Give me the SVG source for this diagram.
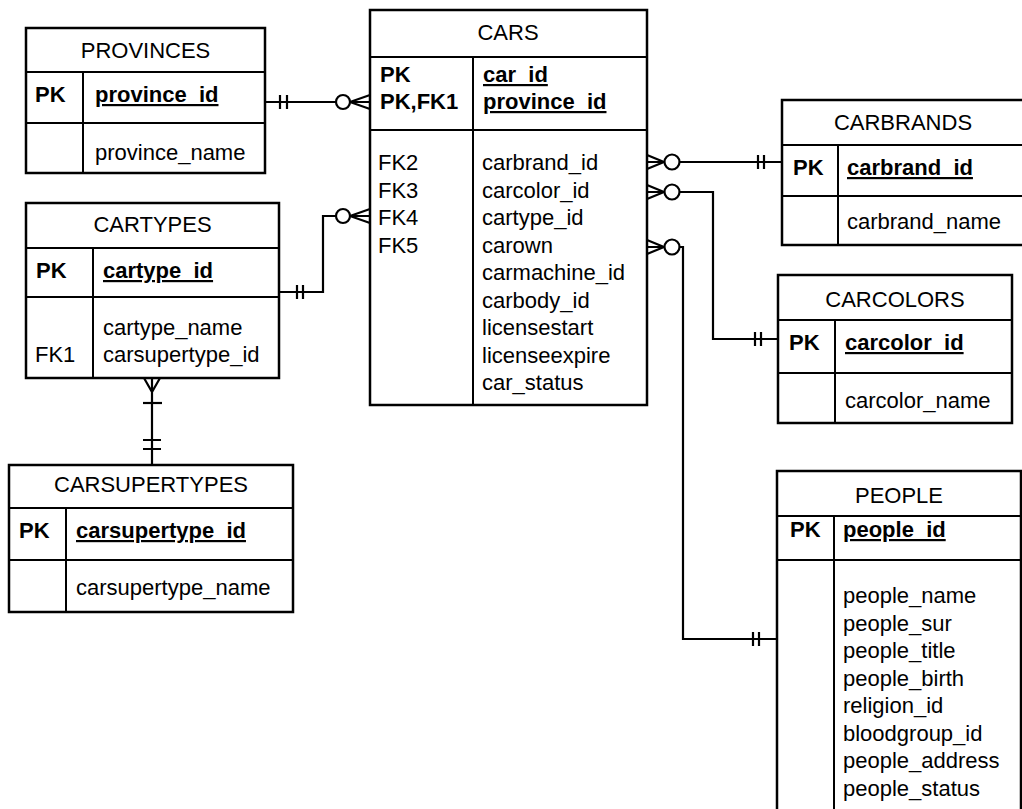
<svg xmlns="http://www.w3.org/2000/svg" width="1022" height="809" viewBox="0 0 1022 809">
  <defs>
    <style>
      .box { fill: #fff; stroke: #000; stroke-width: 2.5; }
      .sep { stroke: #000; stroke-width: 2; fill: none; }
      .t { font-family: "Liberation Sans", Arial, sans-serif; font-size: 22px; fill: #000; }
      .b { font-weight: bold; }
      .u { text-decoration: underline; }
      .c { text-anchor: middle; }
      .conn { fill: none; stroke: #000; stroke-width: 2.2; }
      .ring { fill: #fff; stroke: #000; stroke-width: 2.2; }
    </style>
  </defs>
  <rect width="1022" height="809" fill="#fff"/>

  <!-- PROVINCES -->
  <g id="provinces">
    <rect class="box" x="26" y="28" width="239" height="145"/>
    <path class="sep" d="M26,72 H265 M26,123 H265 M83,72 V173"/>
    <text class="t c" x="145.5" y="58">PROVINCES</text>
    <text class="t b" x="35" y="102">PK</text>
    <text class="t b u" x="95" y="102">province_id</text>
    <text class="t" x="95" y="160">province_name</text>
  </g>

  <!-- CARS -->
  <g id="cars">
    <rect class="box" x="370" y="10" width="277" height="395"/>
    <path class="sep" d="M370,57 H647 M370,130 H647 M473,57 V405"/>
    <text class="t c" x="508" y="40">CARS</text>
    <text class="t b" x="380" y="82">PK</text>
    <text class="t b" x="380" y="109">PK,FK1</text>
    <text class="t b u" x="483" y="82">car_id</text>
    <text class="t b u" x="483" y="109">province_id</text>
    <text class="t" x="378">
      <tspan x="378" y="170">FK2</tspan>
      <tspan x="378" y="197.5">FK3</tspan>
      <tspan x="378" y="225">FK4</tspan>
      <tspan x="378" y="252.5">FK5</tspan>
    </text>
    <text class="t">
      <tspan x="482" y="170">carbrand_id</tspan>
      <tspan x="482" y="197.5">carcolor_id</tspan>
      <tspan x="482" y="225">cartype_id</tspan>
      <tspan x="482" y="252.5">carown</tspan>
      <tspan x="482" y="280">carmachine_id</tspan>
      <tspan x="482" y="307.5">carbody_id</tspan>
      <tspan x="482" y="335">licensestart</tspan>
      <tspan x="482" y="362.5">licenseexpire</tspan>
      <tspan x="482" y="390">car_status</tspan>
    </text>
  </g>

  <!-- CARBRANDS -->
  <g id="carbrands">
    <rect class="box" x="782" y="100" width="245" height="145"/>
    <path class="sep" d="M782,145 H1027 M782,196 H1027 M838,145 V245"/>
    <text class="t c" x="903" y="130">CARBRANDS</text>
    <text class="t b" x="793" y="175">PK</text>
    <text class="t b u" x="847" y="175">carbrand_id</text>
    <text class="t" x="847" y="229">carbrand_name</text>
  </g>

  <!-- CARCOLORS -->
  <g id="carcolors">
    <rect class="box" x="778" y="275" width="234" height="148"/>
    <path class="sep" d="M778,320 H1012 M778,373 H1012 M835,320 V423"/>
    <text class="t c" x="895" y="307">CARCOLORS</text>
    <text class="t b" x="789" y="350">PK</text>
    <text class="t b u" x="845" y="350">carcolor_id</text>
    <text class="t" x="845" y="408">carcolor_name</text>
  </g>

  <!-- PEOPLE -->
  <g id="people">
    <rect class="box" x="777" y="471" width="244" height="350"/>
    <path class="sep" d="M777,516 H1021 M777,560 H1021 M834,516 V809"/>
    <text class="t c" x="899" y="503">PEOPLE</text>
    <text class="t b" x="790" y="537">PK</text>
    <text class="t b u" x="843" y="537">people_id</text>
    <text class="t">
      <tspan x="843" y="603">people_name</tspan>
      <tspan x="843" y="630.5">people_sur</tspan>
      <tspan x="843" y="658">people_title</tspan>
      <tspan x="843" y="685.5">people_birth</tspan>
      <tspan x="843" y="713">religion_id</tspan>
      <tspan x="843" y="740.5">bloodgroup_id</tspan>
      <tspan x="843" y="768">people_address</tspan>
      <tspan x="843" y="795.5">people_status</tspan>
    </text>
  </g>

  <!-- CARTYPES -->
  <g id="cartypes">
    <rect class="box" x="26" y="203" width="253" height="175"/>
    <path class="sep" d="M26,248 H279 M26,297 H279 M93,248 V378"/>
    <text class="t c" x="152.5" y="232">CARTYPES</text>
    <text class="t b" x="36" y="278">PK</text>
    <text class="t b u" x="103" y="278">cartype_id</text>
    <text class="t" x="103" y="335">cartype_name</text>
    <text class="t" x="35" y="362">FK1</text>
    <text class="t" x="103" y="362">carsupertype_id</text>
  </g>

  <!-- CARSUPERTYPES -->
  <g id="carsupertypes">
    <rect class="box" x="9" y="465" width="284" height="147"/>
    <path class="sep" d="M9,508 H293 M9,560 H293 M66,508 V612"/>
    <text class="t c" x="151" y="492">CARSUPERTYPES</text>
    <text class="t b" x="19" y="538">PK</text>
    <text class="t b u" x="76" y="538">carsupertype_id</text>
    <text class="t" x="76" y="595">carsupertype_name</text>
  </g>

  <!-- relationships -->
  <g id="connectors">
    <!-- PROVINCES 1 : 0..n CARS -->
    <path class="conn" d="M265,102 H336 M280,95 V109 M287,95 V109 M350,102 H370 M350,102 L370,95 M350,102 L370,109"/>
    <circle class="ring" cx="343" cy="102" r="7"/>

    <!-- CARTYPES 1 : 0..n CARS -->
    <path class="conn" d="M279,292 H323 V216 H336 M297,285 V299 M303,285 V299 M350,216 H370 M350,216 L370,209 M350,216 L370,223"/>
    <circle class="ring" cx="343" cy="216" r="7"/>

    <!-- CARS 0..n : 1 CARBRANDS -->
    <path class="conn" d="M647,162 H664 M647,155 L664,162 M647,169 L664,162 M680,162 H782 M758,155 V169 M764,155 V169"/>
    <circle class="ring" cx="672" cy="162" r="7.5"/>

    <!-- CARS 0..n : 1 CARCOLORS -->
    <path class="conn" d="M647,192 H664 M647,185 L664,192 M647,199 L664,192 M680,192 H713 V339 H778 M755,332 V346 M761,332 V346"/>
    <circle class="ring" cx="672" cy="192" r="7.5"/>

    <!-- CARS 0..n : 1 PEOPLE -->
    <path class="conn" d="M647,247 H664 M647,240 L664,247 M647,254 L664,247 M680,247 H683 V639 H777 M753,632 V646 M759,632 V646"/>
    <circle class="ring" cx="672" cy="247" r="7.5"/>

    <!-- CARTYPES 1..n : 1 CARSUPERTYPES -->
    <path class="conn" d="M152,378 V465 M144,378 L152,392 L160,378 M143,440 H161 M143,449 H161"/>
    <path class="conn" d="M143,403 H162" stroke-width="3"/>
  </g>
</svg>
